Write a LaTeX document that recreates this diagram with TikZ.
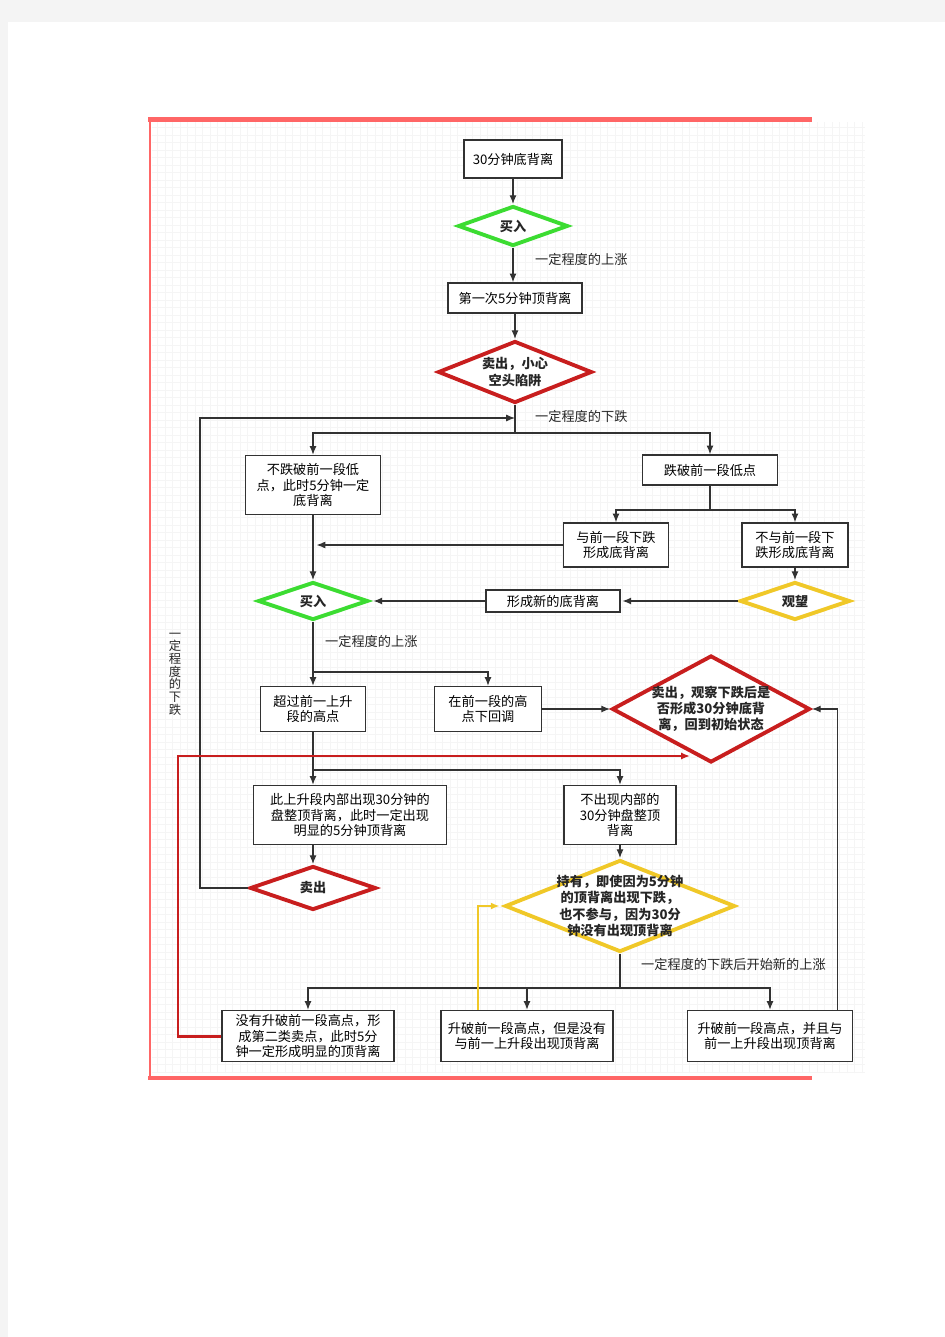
\documentclass[tikz,border=0pt]{standalone}
\usepackage{fontspec}
\setmainfont{Noto Sans CJK SC}
\usetikzlibrary{shapes.geometric,arrows.meta}
\definecolor{buygreen}{RGB}{60,220,50}
\definecolor{sellred}{RGB}{200,30,30}
\definecolor{holdyellow}{RGB}{240,200,40}
\definecolor{framered}{RGB}{255,102,102}
\definecolor{linegray}{RGB}{50,50,50}
\definecolor{pagegray}{RGB}{244,244,244}
\newcommand{\boxfont}{\fontsize{7.5}{9}\selectfont}
\newcommand{\diafont}{\fontsize{7.5}{9.2}\selectfont\bfseries}

\begin{document}
\begin{tikzpicture}[x=0.02cm,y=-0.02cm,
  box/.style={draw=linegray,line width=0.8pt,fill=white,align=center,font=\boxfont,inner sep=1pt},
  dia/.style={diamond,draw,line width=2.2pt,fill=white,inner sep=0pt},
  dtext/.style={align=center,font=\diafont,text=black!85},
  arrow/.style={-{Latex[length=5pt,width=4pt]},line width=0.7pt,linegray},
  line/.style={line width=0.7pt,linegray},
  redline/.style={-{Latex[length=5pt,width=4pt]},line width=1.7pt,sellred},
  yellowline/.style={-{Latex[length=5pt,width=4pt]},line width=1.4pt,holdyellow},
  note/.style={anchor=west,font=\boxfont,text=black!85}
]
  \useasboundingbox (0,0) rectangle (945,1337);
  \fill[pagegray] (0,0) rectangle (945,1337);
  \fill[white] (8,22) rectangle (945,1337);
  \draw[black!4,line width=0.4pt,step=0.15cm] (152,122) grid (865,1073);
  \draw[framered,line width=2.3pt] (148,119.5) -- (812,119.5);
  \draw[framered,line width=1.4pt] (150,118) -- (150,1080);
  \draw[framered,line width=2.8pt] (148,1078) -- (812,1078);

  \node[box,minimum width=1.96cm,minimum height=0.76cm] (b30) at (513,159) {30分钟底背离};
  \node[dia,draw=buygreen,minimum width=2.2cm,minimum height=0.8cm] (buy1) at (513,226) {};
  \node[dtext] (buy1text) at (buy1) {买入};
  \node[box,minimum width=2.68cm,minimum height=0.6cm] (first5) at (515,298) {第一次5分钟顶背离};
  \node[dia,draw=sellred,minimum width=3.08cm,minimum height=1.24cm] (sell1) at (515,372) {};
  \node[dtext] (sell1text) at (sell1) {卖出，小心\\空头陷阱};

  \node[box,minimum width=2.7cm,minimum height=1.18cm] (notbreak) at (313,485) {不跌破前一段低\\点，此时5分钟一定\\底背离};
  \node[box,minimum width=2.7cm,minimum height=0.6cm] (break) at (710,470) {跌破前一段低点};
  \node[box,minimum width=2.1cm,minimum height=0.88cm] (withdiv) at (616,545) {与前一段下跌\\形成底背离};
  \node[box,minimum width=2.12cm,minimum height=0.88cm] (nodiv) at (795,545) {不与前一段下\\跌形成底背离};

  \node[dia,draw=buygreen,minimum width=2.2cm,minimum height=0.76cm] (buy2) at (313,601) {};
  \node[dtext] (buy2text) at (buy2) {买入};
  \node[dia,draw=holdyellow,minimum width=2.2cm,minimum height=0.76cm] (watch) at (795,601) {};
  \node[dtext] (watchtext) at (watch) {观望};
  \node[box,minimum width=2.68cm,minimum height=0.44cm] (newdiv) at (553,601) {形成新的底背离};

  \node[box,minimum width=2.1cm,minimum height=0.9cm] (above) at (313,709) {超过前一上升\\段的高点};
  \node[box,minimum width=2.14cm,minimum height=0.9cm] (below) at (488,709) {在前一段的高\\点下回调};
  \node[dia,draw=sellred,minimum width=3.96cm,minimum height=2.14cm] (sell2) at (711,709) {};
  \node[dtext] (sell2text) at (sell2) {卖出，观察下跌后是\\否形成30分钟底背\\离，回到初始状态};

  \node[box,minimum width=3.86cm,minimum height=1.18cm] (inner) at (350,815) {此上升段内部出现30分钟的\\盘整顶背离，此时一定出现\\明显的5分钟顶背离};
  \node[box,minimum width=2.24cm,minimum height=1.18cm] (noinner) at (620,815) {不出现内部的\\30分钟盘整顶\\背离};
  \node[dia,draw=sellred,minimum width=2.52cm,minimum height=0.88cm] (sell3) at (313,888) {};
  \node[dtext] (sell3text) at (sell3) {卖出};
  \node[dia,draw=holdyellow,minimum width=4.6cm,minimum height=1.84cm] (hold) at (620,906) {};
  \node[dtext] (holdtext) at (hold) {持有，即使因为5分钟\\的顶背离出现下跌，\\也不参与，因为30分\\钟没有出现顶背离};

  \node[box,minimum width=3.44cm,minimum height=1.02cm] (nobreak) at (308,1036) {没有升破前一段高点，形\\成第二类卖点，此时5分\\钟一定形成明显的顶背离};
  \node[box,minimum width=3.44cm,minimum height=1.02cm] (breaknodiv) at (527,1036) {升破前一段高点，但是没有\\与前一上升段出现顶背离};
  \node[box,minimum width=3.3cm,minimum height=1.02cm] (breakdiv) at (770,1036) {升破前一段高点，并且与\\前一上升段出现顶背离};

  \node[note] (rise1) at (529,259) {一定程度的上涨};
  \node[note] (fall1) at (529,416) {一定程度的下跌};
  \node[note] (rise2) at (319,641) {一定程度的上涨};
  \node[note] (fallrise) at (635,964) {一定程度的下跌后开始新的上涨};
  \node[align=center,font=\fontsize{7}{7.2}\selectfont,text=black!85] (vfall) at (175,674) {一\\定\\程\\度\\的\\下\\跌};

  \coordinate (split1) at (515,433);
  \coordinate (loopin) at (515,418);
  \coordinate (loopleft) at (200,418);
  \coordinate (split2) at (710,510);
  \coordinate (split3) at (313,672);
  \coordinate (split4) at (313,770);
  \coordinate (split5) at (620,988);
  \coordinate (redcorner) at (178,756);
  \coordinate (redtip) at (690,756);

  \draw[arrow] (b30) -- (buy1);
  \draw[arrow] (buy1) -- (buy1 |- first5.north);
  \draw[arrow] (first5) -- (sell1);
  \draw[line] (sell1) -- (split1);
  \draw[arrow] (split1) -| (notbreak);
  \draw[arrow] (split1) -| (break);
  \draw[arrow] (sell3.west) -| (loopleft) -- (loopin);
  \draw[line] (break) -- (split2);
  \draw[arrow] (split2) -| (withdiv);
  \draw[arrow] (split2) -| (nodiv);
  \draw[arrow,shorten >=2pt] (withdiv.west) -- (notbreak.south |- withdiv.west);
  \draw[arrow] (notbreak) -- (buy2);
  \draw[arrow] (nodiv) -- (watch);
  \draw[arrow,shorten >=1pt] (watch) -- (newdiv);
  \draw[arrow,shorten >=2pt] (newdiv) -- (buy2);
  \draw[arrow] (buy2) -- (above);
  \draw[arrow] (split3) -| (below);
  \draw[arrow] (below) -- (sell2);
  \draw[arrow] (above.south) -- (above.south |- inner.north);
  \draw[arrow] (split4) -| (noinner);
  \draw[arrow] (sell3.north |- inner.south) -- (sell3);
  \draw[arrow] (noinner) -- (hold);
  \draw[line] (hold) -- (split5);
  \draw[arrow] (split5) -| (nobreak);
  \draw[arrow] (split5) -| (breaknodiv);
  \draw[arrow] (split5) -| (breakdiv);
  \draw[arrow] ([xshift=-0.31cm]breakdiv.north east) |- (sell2.east);
  \draw[yellowline,shorten >=2pt] ([xshift=-0.98cm]breaknodiv.north) |- (hold.west);
  \draw[redline] (nobreak.west) -| (redcorner) -- (redtip);
\end{tikzpicture}
\end{document}
